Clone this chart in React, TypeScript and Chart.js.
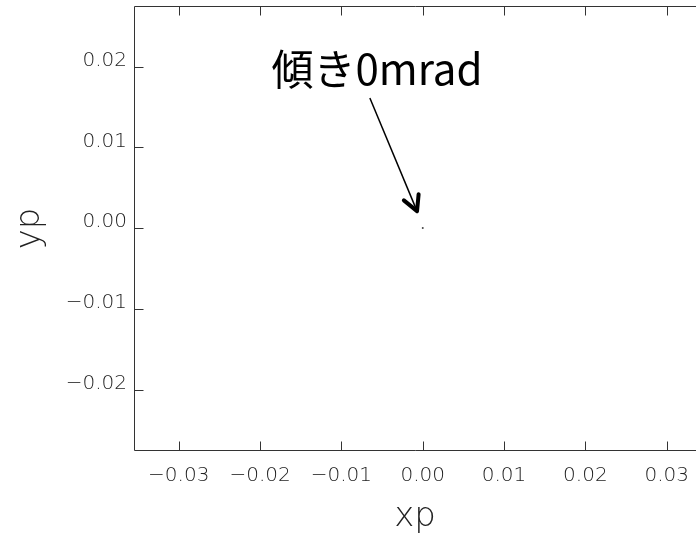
import React, { useEffect, useRef } from "react";
import { Chart, registerables } from "chart.js";

Chart.register(...registerables);

// ---- data ----
const xpValues = [0];
const ypValues = [0];
const xTickValues = [-0.03, -0.02, -0.01, 0, 0.01, 0.02, 0.03];
const yTickValues = [-0.02, -0.01, 0, 0.01, 0.02];
const xRange = [-0.0355, 0.0336];
const yRange = [-0.0276, 0.0275];
const xTitle = "xp";
const yTitle = "yp";
const annotationText = "傾き0mrad";
const annotationTextAt = [-0.0186, 0.0177];
const arrowFrom = [-0.0065, 0.0161];
const arrowTo = [-0.0007, 0.0021];

const axisFont = "DejaVu Sans";
const inkColor = "#222";

const fmt = (v: number) => {
  const s = Math.abs(v).toFixed(2);
  return (v < -1e-9 ? "\u2212" : "") + s;
};

const framePlugin = {
  id: "frameTicks",
  afterDatasetsDraw(chart: any) {
    const { ctx, chartArea, scales } = chart;
    const { left, top, right, bottom } = chartArea;
    const tl = 9;
    ctx.save();
    ctx.strokeStyle = "#333";
    ctx.lineWidth = 1;
    const L = Math.round(left) + 0.5;
    const T = Math.round(top) + 0.5;
    const B = Math.round(bottom) - 0.5;
    ctx.beginPath();
    ctx.moveTo(right, T);
    ctx.lineTo(L, T);
    ctx.lineTo(L, B);
    ctx.lineTo(right, B);
    ctx.stroke();
    ctx.beginPath();
    xTickValues.forEach((v) => {
      const px = Math.round(scales.x.getPixelForValue(v)) + 0.5;
      ctx.moveTo(px, B);
      ctx.lineTo(px, B - tl);
      ctx.moveTo(px, T);
      ctx.lineTo(px, T + tl);
    });
    yTickValues.forEach((v) => {
      const py = Math.round(scales.y.getPixelForValue(v)) + 0.5;
      ctx.moveTo(L, py);
      ctx.lineTo(L + tl, py);
    });
    ctx.stroke();
    ctx.restore();
  },
};

const annotationPlugin = {
  id: "annotation",
  afterDraw(chart: any) {
    const { ctx, scales } = chart;
    const X = (v: number) => scales.x.getPixelForValue(v);
    const Y = (v: number) => scales.y.getPixelForValue(v);
    ctx.save();
    ctx.fillStyle = "#000";
    ctx.font = '42px "Noto Sans CJK JP"';
    ctx.textAlign = "left";
    ctx.textBaseline = "alphabetic";
    ctx.fillText(annotationText, X(annotationTextAt[0]), Y(annotationTextAt[1]));

    const x0 = X(arrowFrom[0]);
    const y0 = Y(arrowFrom[1]);
    const x1 = X(arrowTo[0]);
    const y1 = Y(arrowTo[1]);
    ctx.strokeStyle = "#000";
    ctx.lineWidth = 1.5;
    ctx.beginPath();
    ctx.moveTo(x0, y0);
    ctx.lineTo(x1, y1);
    ctx.stroke();
    const ang = Math.atan2(y0 - y1, x0 - x1);
    const spread = (28 * Math.PI) / 180;
    const len = 17;
    ctx.lineWidth = 4;
    ctx.lineCap = "round";
    ctx.lineJoin = "round";
    ctx.beginPath();
    ctx.moveTo(x1 + len * Math.cos(ang - spread), y1 + len * Math.sin(ang - spread));
    ctx.lineTo(x1, y1);
    ctx.lineTo(x1 + len * Math.cos(ang + spread), y1 + len * Math.sin(ang + spread));
    ctx.stroke();
    ctx.restore();
  },
};

export default function App() {
  const ref = useRef<HTMLCanvasElement | null>(null);
  useEffect(() => {
    document.body.style.margin = "0";
    if (!ref.current) return;
    const tickFont = { family: axisFont, size: 20, weight: 200 as any };
    const titleFont = { family: axisFont, size: 34, weight: 200 as any };
    const chart = new Chart(ref.current, {
      type: "scatter",
      data: {
        datasets: [
          {
            data: xpValues.map((x, i) => ({ x, y: ypValues[i] })),
            pointRadius: 1,
            pointHoverRadius: 1,
            pointBorderWidth: 0,
            pointBackgroundColor: "#444",
          },
        ],
      },
      options: {
        responsive: false,
        animation: false,
        layout: { autoPadding: false, padding: { top: 6, right: 0, bottom: 0, left: 0 } },
        plugins: { legend: { display: false }, tooltip: { enabled: false } },
        scales: {
          x: {
            type: "linear",
            position: "bottom",
            min: xRange[0],
            max: xRange[1],
            grid: { display: false, drawTicks: false },
            border: { display: false },
            afterBuildTicks: (s: any) => {
              s.ticks = xTickValues.map((value) => ({ value }));
            },
            afterFit: (s: any) => {
              s.height = 87;
              s.paddingLeft = 0;
              s.paddingRight = 0;
            },
            ticks: {
              callback: (v: any) => fmt(Number(v)),
              font: tickFont,
              color: inkColor,
              padding: 13,
              maxRotation: 0,
              autoSkip: false,
            },
            title: {
              display: true,
              text: xTitle,
              font: titleFont,
              color: inkColor,
              padding: { top: 0, bottom: 0 },
            },
          },
          y: {
            type: "linear",
            position: "left",
            min: yRange[0],
            max: yRange[1],
            grid: { display: false, drawTicks: false },
            border: { display: false },
            afterBuildTicks: (s: any) => {
              s.ticks = yTickValues.map((value) => ({ value }));
            },
            afterFit: (s: any) => {
              s.width = 134;
              s.paddingTop = 0;
              s.paddingBottom = 0;
            },
            ticks: {
              callback: (v: any) => fmt(Number(v)),
              font: tickFont,
              color: inkColor,
              padding: 7,
              labelOffset: -6,
              autoSkip: false,
            },
            title: {
              display: true,
              text: yTitle,
              font: titleFont,
              color: inkColor,
              padding: { top: 10, bottom: 0 },
            },
          },
        },
      },
      plugins: [framePlugin, annotationPlugin],
    });
    return () => chart.destroy();
  }, []);
  return (
    <div style={{ width: 696, height: 538, background: "#fff" }}>
      <canvas ref={ref} width={696} height={538} style={{ display: "block" }} />
    </div>
  );
}
